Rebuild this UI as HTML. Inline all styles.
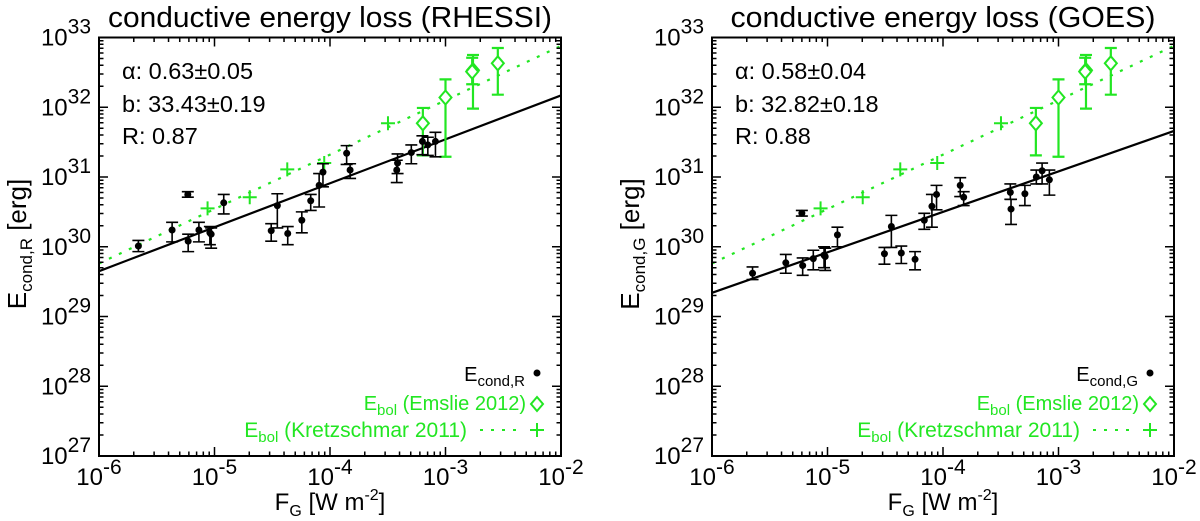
<!DOCTYPE html>
<html><head><meta charset="utf-8">
<style>
html,body{margin:0;padding:0;background:#fff;}
svg{display:block;font-family:"Liberation Sans",Arial,sans-serif;}
</style></head>
<body>
<svg id="chart" width="1200" height="521" viewBox="0 0 1200 521" xmlns="http://www.w3.org/2000/svg"></svg>
<script>
// ---------- data (log10 values) ----------
const panelTitles = ["conductive energy loss (RHESSI)", "conductive energy loss (GOES)"];
const yTitleSubs = ["cond,R", "cond,G"];
const fitAlpha = [0.63, 0.58];
const fitB = [33.43, 32.82];
const fitAlphaErr = ["0.05", "0.04"];
const fitBErr = ["0.19", "0.18"];
const fitR = ["0.87", "0.88"];

const xTickExps = [-6, -5, -4, -3, -2];
const yTickExps = [27, 28, 29, 30, 31, 32, 33];

// RHESSI panel conductive energy
const fluxR = [-5.659,-5.367,-5.231,-5.228,-5.135,-5.029,-5.04,-4.92,-4.509,-4.456,-4.366,-4.244,-4.167,-4.094,-4.061,-3.856,-3.826,-3.415,-3.422,-3.296,-3.2,-3.153,-3.087];
const econdR = [30.01,30.24,30.75,30.08,30.24,30.18,30.2,30.63,30.23,30.59,30.19,30.38,30.66,30.88,31.07,31.34,31.10,31.20,31.10,31.35,31.51,31.46,31.51];
const econdRHi = [30.09,30.35,30.79,30.18,30.35,30.27,30.29,30.75,30.33,30.76,30.29,30.50,30.75,31.05,31.19,31.45,31.19,31.33,31.24,31.46,31.59,31.57,31.64];
const econdRLo = [29.93,30.07,30.71,29.93,30.07,29.98,30.03,30.47,30.08,30.27,30.03,30.20,30.52,30.57,30.86,31.18,30.98,31.05,30.92,31.19,31.32,31.31,31.29];

// GOES panel conductive energy
const fluxG = [-5.649,-5.361,-5.222,-5.215,-5.123,-5.02,-5.03,-4.914,-4.507,-4.447,-4.361,-4.242,-4.162,-4.096,-4.056,-3.851,-3.821,-3.417,-3.411,-3.291,-3.192,-3.142,-3.079];
const econdG = [29.62,29.77,30.48,29.73,29.83,29.86,29.88,30.17,29.90,30.29,29.91,29.82,30.38,30.58,30.75,30.88,30.71,30.78,30.54,30.76,31.00,31.09,30.96];
const econdGHi = [29.71,29.89,30.52,29.84,29.95,29.98,30.0,30.28,29.99,30.45,30.01,29.93,30.48,30.75,30.88,30.99,30.79,30.90,30.68,30.88,31.10,31.20,31.10];
const econdGLo = [29.53,29.62,30.44,29.59,29.67,29.66,29.7,30.00,29.75,29.99,29.76,29.67,30.25,30.28,30.53,30.72,30.59,30.68,30.32,30.59,30.90,30.90,30.74];

// Emslie 2012 bolometric energies
const fluxEm = [-3.196,-3.0,-2.762,-2.769,-2.547];
const ebolEm = [31.77,32.14,32.53,32.51,32.63];
const ebolEmHi = [31.99,32.40,32.75,32.71,32.85];
const ebolEmLo = [31.31,31.29,31.98,32.33,32.18];

// Kretzschmar 2011
const fluxKr = [-5.06,-4.695,-4.37,-4.05,-3.498];
const ebolKr = [30.55,30.71,31.11,31.20,31.77];
const krSlope = 0.78;
const krIntercept = 34.44;

const panelFlux = [fluxR, fluxG];
const panelE = [econdR, econdG];
const panelEHi = [econdRHi, econdGHi];
const panelELo = [econdRLo, econdGLo];

// ---------- drawing ----------
const NS = "http://www.w3.org/2000/svg";
const svg = document.getElementById("chart");
const GREEN = "#22e622";
function mk(tag, attrs, parent) {
  const e = document.createElementNS(NS, tag);
  for (const k in attrs) e.setAttribute(k, attrs[k]);
  (parent || svg).appendChild(e);
  return e;
}
const PW = 462, PTOP = 37.5, PBOT = 456;
const XMIN = -6, XMAX = -2, YMIN = 27, YMAX = 33;

for (let p = 0; p < 2; p++) {
  const L = p === 0 ? 99 : 712;
  const R = L + PW;
  const xs = v => L + (v - XMIN) / (XMAX - XMIN) * PW;
  const ys = v => PBOT - (v - YMIN) / (YMAX - YMIN) * (PBOT - PTOP);
  const g = mk("g", {});
  
  

  const t = mk("text", {x: (L + R) / 2, y: 27, "text-anchor": "middle", "font-size": 29, fill: "#000", textLength: p === 0 ? 444 : 425, lengthAdjust: "spacingAndGlyphs"}, g);
  t.textContent = panelTitles[p];
  
  

  const cid = "clip" + p;
  const defs = mk("defs", {}, g);
  const cp = mk("clipPath", {id: cid}, defs);
  mk("rect", {x: L, y: PTOP, width: PW, height: PBOT - PTOP}, cp);
  const plot = mk("g", {"clip-path": "url(#" + cid + ")"}, g);

  const kl = mk("line", {x1: xs(XMIN), y1: ys(krIntercept + krSlope * XMIN), x2: xs(XMAX), y2: ys(krIntercept + krSlope * XMAX), stroke: GREEN, "stroke-width": 2.2, "stroke-dasharray": "3,8"}, plot);
  
  

  const fl = mk("line", {x1: xs(XMIN), y1: ys(fitB[p] + fitAlpha[p] * XMIN), x2: xs(XMAX), y2: ys(fitB[p] + fitAlpha[p] * XMAX), stroke: "#000", "stroke-width": 2.2}, plot);
  
  

  for (let i = 0; i < fluxKr.length; i++) {
    const cx = xs(fluxKr[i]), cy = ys(ebolKr[i]);
    const pl = mk("path", {d: `M${cx-7},${cy}H${cx+7}M${cx},${cy-7}V${cy+7}`, stroke: GREEN, "stroke-width": 2}, plot);
    
    
  }

  for (let i = 0; i < fluxEm.length; i++) {
    const cx = xs(fluxEm[i]), cy = ys(ebolEm[i]);
    const eb = mk("path", {d: `M${cx},${ys(ebolEmHi[i])}V${ys(ebolEmLo[i])}M${cx-6},${ys(ebolEmHi[i])}H${cx+6}M${cx-6},${ys(ebolEmLo[i])}H${cx+6}`, stroke: GREEN, "stroke-width": 2.2, fill: "none"}, plot);
    
    
    const d = mk("path", {d: `M${cx},${cy-7}L${cx+6},${cy}L${cx},${cy+7}L${cx-6},${cy}Z`, stroke: GREEN, "stroke-width": 2, fill: "#fff"}, plot);
    
    
  }

  const fx = panelFlux[p], fe = panelE[p], fh = panelEHi[p], flo = panelELo[p];
  for (let i = 0; i < fx.length; i++) {
    const cx = xs(fx[i]), cy = ys(fe[i]);
    const eb = mk("path", {d: `M${cx},${ys(fh[i])}V${ys(flo[i])}M${cx-6},${ys(fh[i])}H${cx+6}M${cx-6},${ys(flo[i])}H${cx+6}`, stroke: "#000", "stroke-width": 1.6, fill: "none"}, plot);
    
    
    const c = mk("circle", {cx: cx, cy: cy, r: 3.5, fill: "#000"}, plot);
    
    
  }

  const fr = mk("rect", {x: L, y: PTOP, width: PW, height: PBOT - PTOP, fill: "none", stroke: "#000", "stroke-width": 2}, g);
  
  

  let tk = "";
  for (let e = XMIN; e <= XMAX; e++) {
    const x = xs(e);
    tk += `M${x},${PBOT}v-9M${x},${PTOP}v9`;
    if (e < XMAX) for (let m = 2; m <= 9; m++) {
      const xm = xs(e + Math.log10(m));
      tk += `M${xm},${PBOT}v-4.5M${xm},${PTOP}v4.5`;
    }
  }
  for (let e = YMIN; e <= YMAX; e++) {
    const y = ys(e);
    tk += `M${L},${y}h9M${R},${y}h-9`;
    if (e < YMAX) for (let m = 2; m <= 9; m++) {
      const ym = ys(e + Math.log10(m));
      tk += `M${L},${ym}h4.5M${R},${ym}h-4.5`;
    }
  }
  const ticks = mk("path", {d: tk, stroke: "#000", "stroke-width": 1.5}, g);
  
  

  xTickExps.forEach(e => {
    const tx = mk("text", {x: xs(e), y: 485, "text-anchor": "middle", "font-size": 24, fill: "#000"}, g);
    
    
    tx.innerHTML = `10<tspan dy="-11" font-size="21">-${-e}</tspan>`;
  });
  yTickExps.forEach(e => {
    const tx = mk("text", {x: L - 8, y: ys(e) + 8, "text-anchor": "end", "font-size": 24, fill: "#000"}, g);
    
    
    tx.innerHTML = `10<tspan dy="-12" font-size="21">${e}</tspan>`;
  });

  const xt = mk("text", {x: (L + R) / 2, y: 510, "text-anchor": "middle", "font-size": 24, fill: "#000"}, g);
  
  
  xt.innerHTML = `F<tspan dy="6" font-size="16">G</tspan><tspan dy="-6"> [W m</tspan><tspan dy="-10" font-size="16">-2</tspan><tspan dy="10">]</tspan>`;

  const ytx = L - 73, yty = 244;
  const yt = mk("text", {x: ytx, y: yty, "text-anchor": "middle", "font-size": 26, fill: "#000", transform: `rotate(-90 ${ytx} ${yty})`}, g);
  
  
  yt.innerHTML = `E<tspan dy="6" font-size="17">${yTitleSubs[p]}</tspan><tspan dy="-6"> [erg]</tspan>`;

  const ann = [`α: ${fitAlpha[p].toFixed(2)}±${fitAlphaErr[p]}`, `b: ${fitB[p].toFixed(2)}±${fitBErr[p]}`, `R: ${fitR[p]}`];
  ann.forEach((s, i) => {
    const a = mk("text", {x: L + 23, y: [79, 112, 144][i], "font-size": 23.5, fill: "#000"}, g);
    
    
    a.textContent = s;
  });

  const lx = L + 438;
  const l1 = mk("text", {x: L + 426, y: 381, "text-anchor": "end", "font-size": 20, fill: "#000"}, g);
  
  
  l1.innerHTML = `E<tspan dy="5" font-size="15">${yTitleSubs[p]}</tspan>`;
  const ld = mk("circle", {cx: lx, cy: 373, r: 3.5, fill: "#000"}, g);
  
  

  const l2 = mk("text", {x: L + 427, y: 410, "text-anchor": "end", "font-size": 20, fill: GREEN}, g);
  
  
  l2.innerHTML = `E<tspan dy="5" font-size="15">bol</tspan><tspan dy="-5"> (Emslie 2012)</tspan>`;
  const ldm = mk("path", {d: `M${lx},${397}L${lx+6},${404}L${lx},${411}L${lx-6},${404}Z`, stroke: GREEN, "stroke-width": 2, fill: "none"}, g);
  
  

  const l3 = mk("text", {x: L + 368, y: 437, "text-anchor": "end", "font-size": 21, fill: GREEN}, g);
  
  
  l3.innerHTML = `E<tspan dy="5" font-size="15">bol</tspan><tspan dy="-5"> (Kretzschmar 2011)</tspan>`;
  const ll = mk("line", {x1: L + 381, y1: 430, x2: L + 424, y2: 430, stroke: GREEN, "stroke-width": 2, "stroke-dasharray": "3,8"}, g);
  
  
  const lp = mk("path", {d: `M${lx-7},430H${lx+7}M${lx},423V437`, stroke: GREEN, "stroke-width": 2}, g);
  
  
}
</script>
</body></html>
